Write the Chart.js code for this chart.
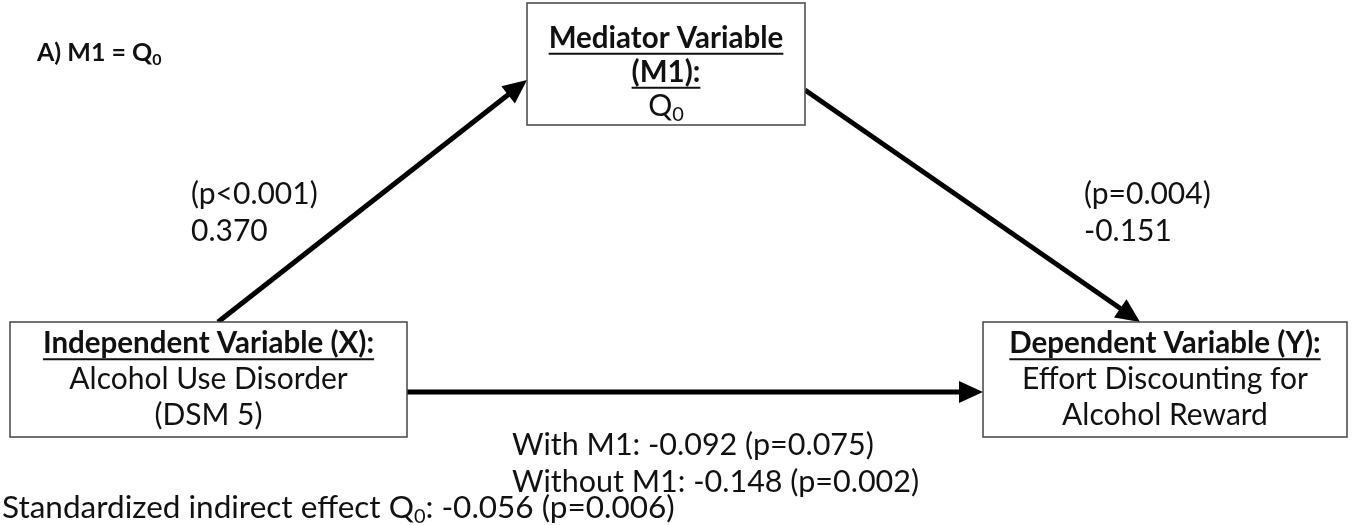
<!DOCTYPE html>
<html>
<head>
<meta charset="utf-8">
<script src="https://cdn.jsdelivr.net/npm/chart.js@4/dist/chart.umd.min.js"></script>
<style>
  html, body { margin: 0; padding: 0; background: #fff; }
  #wrap { width: 1357px; height: 525px; }
</style>
</head>
<body>
<div id="wrap"><canvas id="chart" width="1357" height="525"></canvas></div>
<script>
// --- data ---
const panelLabel = 'A) M1 = Q_{0}';
const nodeTitles = [['Independent Variable (X):'], ['Mediator Variable', '(M1):'], ['Dependent Variable (Y):']];
const nodeBodies = [['Alcohol Use Disorder', '(DSM 5)'], ['Q_{0}'], ['Effort Discounting for', 'Alcohol Reward']];
const pathNames = ['a', 'b', 'cWith', 'cWithout'];
const pathCoefs = [0.370, -0.151, -0.092, -0.148];
const pathPLabels = ['p<0.001', 'p=0.004', 'p=0.075', 'p=0.002'];
const indirectCoef = -0.056;
const indirectPLabel = 'p=0.006';

// --- layout (diagram units = pixels of the 1357x525 frame) ---
const boxes = [
    {x0: 10, y0: 322, x1: 407, y1: 437},
    {x0: 527, y0: 3, x1: 805, y1: 125},
    {x0: 983, y0: 322, x1: 1347, y1: 437}
];
const arrows = [
    {from: [218, 322], to: [527, 80]},
    {from: [805, 90], to: [1140, 322]},
    {from: [407, 392], to: [983, 392]}
];
const HEAD_LEN = 24, HEAD_W = 11;
const FONT = 'Lato, "Open Sans", sans-serif';
const FS = 30;

function fmt(v) {
    return v.toFixed(3);
}

function shaftPoints(a) {
    const dx = a.to[0] - a.from[0], dy = a.to[1] - a.from[1];
    const len = Math.hypot(dx, dy);
    const k = (len - HEAD_LEN + 2) / len;
    return [{x: a.from[0], y: a.from[1]}, {x: a.from[0] + dx * k, y: a.from[1] + dy * k}];
}

// rich text: "Q_{0}" -> Q with subscript 0
function parseRich(str) {
    const out = [];
    const re = /_\{([^}]*)\}/g;
    let last = 0, m;
    while ((m = re.exec(str)) !== null) {
        if (m.index > last) out.push({t: str.slice(last, m.index), sub: false});
        out.push({t: m[1], sub: true});
        last = re.lastIndex;
    }
    if (last < str.length) out.push({t: str.slice(last), sub: false});
    return out;
}

function drawRich(ctx, str, x, y, opts) {
    const size = opts.size || FS;
    const weight = opts.bold ? 'bold ' : '';
    const segs = parseRich(str);
    const mainFont = weight + size + 'px ' + FONT;
    const subFont = weight + Math.round(size * 0.65) + 'px ' + FONT;
    let total = 0;
    segs.forEach(s => {
        ctx.font = s.sub ? subFont : mainFont;
        s.w = ctx.measureText(s.t).width;
        total += s.w;
    });
    let cx = opts.align === 'center' ? x - total / 2 : x;
    ctx.fillStyle = '#111';
    ctx.textBaseline = 'middle';
    ctx.textAlign = 'left';
    segs.forEach(s => {
        ctx.font = s.sub ? subFont : mainFont;
        ctx.fillText(s.t, cx, s.sub ? y + size * 0.28 : y);
        cx += s.w;
    });
    if (opts.underline) {
        const start = opts.align === 'center' ? x - total / 2 : x;
        ctx.fillRect(start, y + size * 0.5, total, 2);
    }
}

const diagramPlugin = {
    id: 'diagram',
    afterDatasetsDraw(chart) {
        const {ctx, scales} = chart;
        const px = v => scales.x.getPixelForValue(v);
        const py = v => scales.y.getPixelForValue(v);
        ctx.save();

        // arrow heads
        arrows.forEach(a => {
            const tx = px(a.to[0]), ty = py(a.to[1]);
            const ang = Math.atan2(ty - py(a.from[1]), tx - px(a.from[0]));
            ctx.beginPath();
            ctx.moveTo(tx, ty);
            ctx.lineTo(tx - HEAD_LEN * Math.cos(ang) + HEAD_W * Math.sin(ang), ty - HEAD_LEN * Math.sin(ang) - HEAD_W * Math.cos(ang));
            ctx.lineTo(tx - HEAD_LEN * Math.cos(ang) - HEAD_W * Math.sin(ang), ty - HEAD_LEN * Math.sin(ang) + HEAD_W * Math.cos(ang));
            ctx.closePath();
            ctx.fillStyle = '#000';
            ctx.fill();
        });

        // boxes with text
        boxes.forEach((b, i) => {
            const x0 = px(b.x0), y0 = py(b.y0), x1 = px(b.x1), y1 = py(b.y1);
            ctx.fillStyle = '#fff';
            ctx.fillRect(x0, y0, x1 - x0, y1 - y0);
            ctx.strokeStyle = '#444';
            ctx.lineWidth = 1.5;
            ctx.strokeRect(x0, y0, x1 - x0, y1 - y0);
            const lines = nodeTitles[i].map(t => ({t, title: true})).concat(nodeBodies[i].map(t => ({t, title: false})));
            const lh = i === 1 ? 34 : 36;
            const cy = (y0 + y1) / 2 - (lines.length - 1) * lh / 2 + (i === 1 ? 8 : 0);
            lines.forEach((l, j) => {
                drawRich(ctx, l.t, (x0 + x1) / 2, cy + j * lh, {align: 'center', bold: l.title, underline: l.title, size: l.title ? 29.5 : 30});
            });
        });

        // panel label
        drawRich(ctx, panelLabel, px(37), py(53), {bold: true, size: 25});

        // path coefficients
        drawRich(ctx, '(' + pathPLabels[0] + ')', px(191), py(194), {});
        drawRich(ctx, fmt(pathCoefs[0]), px(191), py(231), {});
        drawRich(ctx, '(' + pathPLabels[1] + ')', px(1084), py(194), {});
        drawRich(ctx, fmt(pathCoefs[1]), px(1084), py(231), {});
        drawRich(ctx, 'With M1: ' + fmt(pathCoefs[2]) + ' (' + pathPLabels[2] + ')', px(512), py(445), {size: 30.5});
        drawRich(ctx, 'Without M1: ' + fmt(pathCoefs[3]) + ' (' + pathPLabels[3] + ')', px(512), py(482), {size: 30.5});
        drawRich(ctx, 'Standardized indirect effect Q_{0}: ' + fmt(indirectCoef) + ' (' + indirectPLabel + ')', px(2), py(508), {size: 31.5});

        ctx.restore();
    }
};

const datasets = arrows.map((a, i) => ({
    label: pathNames[i],
    data: shaftPoints(a),
    showLine: true,
    borderColor: '#000',
    borderWidth: 5,
    pointRadius: 0,
    borderCapStyle: 'butt'
}));

new Chart(document.getElementById('chart').getContext('2d'), {
    type: 'scatter',
    data: {datasets},
    options: {
        responsive: false,
        animation: false,
        devicePixelRatio: 1,
        layout: {padding: 0},
        plugins: {legend: {display: false}, tooltip: {enabled: false}},
        scales: {
            x: {type: 'linear', min: 0, max: 1357, display: false},
            y: {type: 'linear', min: 0, max: 525, reverse: true, display: false}
        }
    },
    plugins: [diagramPlugin]
});
</script>
</body>
</html>
